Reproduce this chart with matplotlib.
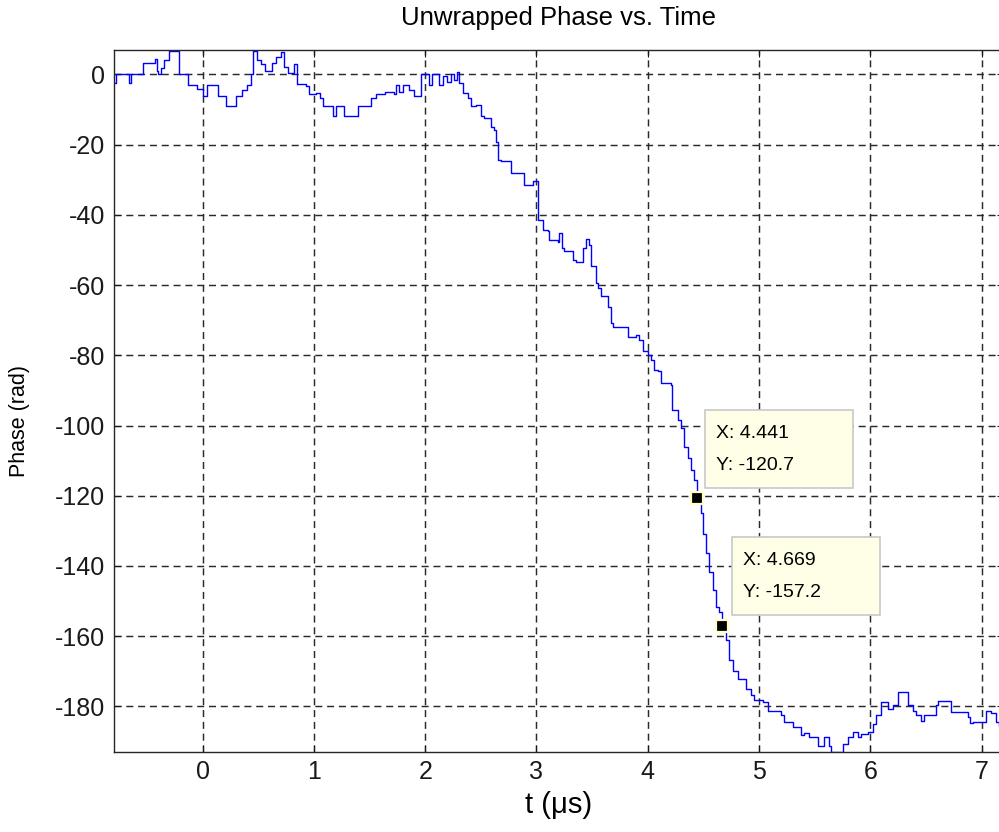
import matplotlib
matplotlib.use("Agg")
import matplotlib.pyplot as plt
import matplotlib.transforms as mtransforms
from matplotlib.patches import Rectangle

plt.rcParams['font.family'] = ['Liberation Sans', 'DejaVu Sans']
plt.rcParams['axes.unicode_minus'] = False

# unwrapped phase samples (step changes), time in microseconds
t_us = [
    -0.797, -0.78, -0.662, -0.64, -0.536, -0.43, -0.415, -0.40, -0.375, -0.35,
    -0.30, -0.213, -0.132, -0.05, 0.00, 0.04, 0.137, 0.21, 0.30, 0.35,
    0.40, 0.43, 0.455, 0.49, 0.52, 0.56, 0.62, 0.66, 0.70, 0.73,
    0.77, 0.82, 0.847, 0.93, 0.955, 1.02, 1.05, 1.08, 1.17, 1.20,
    1.27, 1.40, 1.51, 1.557, 1.64, 1.72, 1.737, 1.764, 1.80, 1.85,
    1.90, 1.962, 2.03, 2.06, 2.12, 2.16, 2.20, 2.23, 2.26, 2.285,
    2.303, 2.34, 2.384, 2.411, 2.456, 2.501, 2.528, 2.591, 2.618, 2.635,
    2.653, 2.68, 2.771, 2.887, 2.968, 3.01, 3.031, 3.058, 3.103, 3.112,
    3.193, 3.201, 3.228, 3.246, 3.327, 3.354, 3.417, 3.444, 3.471, 3.489,
    3.534, 3.552, 3.579, 3.642, 3.668, 3.686, 3.821, 3.893, 3.92, 3.956,
    4.0, 4.028, 4.055, 4.091, 4.118, 4.208, 4.217, 4.271, 4.298, 4.325,
    4.361, 4.389, 4.415, 4.441, 4.480, 4.498, 4.525, 4.549, 4.585, 4.612,
    4.639, 4.669, 4.701, 4.729, 4.765, 4.810, 4.882, 4.927, 4.954, 5.034,
    5.079, 5.196, 5.223, 5.304, 5.376, 5.40, 5.447, 5.528, 5.582, 5.627,
    5.645, 5.753, 5.798, 5.843, 5.888, 5.915, 5.978, 6.023, 6.050, 6.095,
    6.157, 6.202, 6.247, 6.337, 6.382, 6.409, 6.454, 6.481, 6.589, 6.607,
    6.723, 6.876, 6.90, 6.922, 7.038, 7.083, 7.128, 7.154, 7.25,
]
phase_rad = [
    -2.5, 0.0, -2.5, 0.0, 3.3, 4.3, 1.0, 0.0, 1.9, 4.0,
    6.8, 0.0, -3.0, -4.2, -6.2, -3.0, -6.2, -9.0, -6.2, -4.5,
    -3.0, 0.0, 6.8, 4.0, 3.0, 1.0, 3.3, 5.0, 6.5, 2.0,
    0.5, 2.9, -2.7, -3.2, -5.7, -5.4, -6.6, -9.0, -11.9, -9.0,
    -11.9, -9.0, -6.6, -5.7, -5.0, -5.7, -2.9, -5.0, -2.9, -4.5,
    -6.2, 0.0, -2.9, 0.0, -3.1, -0.5, -2.0, 0.0, -1.5, 0.7,
    -2.3, -5.2, -6.6, -9.0, -8.6, -11.9, -12.3, -15.1, -15.7, -19.3,
    -24.3, -24.7, -28.0, -31.4, -30.4, -41.4, -41.4, -44.2, -44.7, -47.1,
    -47.6, -45.2, -49.5, -50.4, -52.8, -53.3, -49.4, -46.9, -48.5, -54.7,
    -59.4, -60.8, -63.2, -66.1, -70.8, -71.8, -74.8, -74.2, -75.5, -78.9,
    -80.0, -81.3, -84.2, -84.6, -87.9, -88.5, -95.6, -98.4, -100.7, -106.0,
    -109.3, -112.7, -115.5, -120.7, -125.0, -131.0, -136.4, -141.7, -147.0, -151.7,
    -153.0, -157.2, -161.2, -166.9, -169.8, -172.1, -175.0, -176.9, -178.3, -178.8,
    -181.2, -182.6, -184.5, -185.9, -188.3, -187.6, -188.8, -191.2, -188.8, -191.2,
    -193.0, -190.6, -188.8, -187.4, -188.8, -187.8, -187.4, -185.0, -182.6, -178.8,
    -180.7, -179.7, -176.0, -179.7, -181.2, -182.6, -184.2, -182.6, -179.7, -178.6,
    -181.6, -183.1, -184.8, -184.5, -181.2, -182.0, -184.5, -185.7, -185.7,
]

# data cursor points
tip_t = [4.441, 4.669]
tip_phase = [-120.7, -157.2]

x_ticks = [0, 1, 2, 3, 4, 5, 6, 7]
y_ticks = [0, -20, -40, -60, -80, -100, -120, -140, -160, -180]

fig = plt.figure(figsize=(9.99, 8.32), dpi=100)
ax = fig.add_axes([0.1138, 0.0962, 0.891, 0.8438])

ax.plot(t_us, phase_rad, color=(0, 0, 1), lw=1.0, drawstyle='steps-post')

ax.set_xlim(-0.8, 7.2)
ax.set_ylim(-193, 7)
ax.set_xticks(x_ticks)
ax.set_yticks(y_ticks)
ax.tick_params(direction='in', length=5, labelsize=18, top=True, right=True,
               colors='#1a1a1a', pad=6)
for s in ax.spines.values():
    s.set_color('#262626')
    s.set_linewidth(1.0)
ax.grid(True, color='#2a2a2a', lw=1.05, linestyle=(0, (4.8, 3.3)))

ax.set_title('Unwrapped Phase vs. Time', fontsize=18.5, pad=18)
ax.set_xlabel('t (μs)', fontsize=21, labelpad=5)
ax.set_ylabel('Phase (rad)', fontsize=15.5)
ax.yaxis.set_label_coords(-0.094, 0.4715)

# data tips: yellow boxes offset from the marker in screen units
offsets = [(8, 10), (10, 11)]
for tx, py, (dx, dy) in zip(tip_t, tip_phase, offsets):
    ax.plot([tx], [py], marker='s', ms=9, mfc='black', mec='#FFFFC8', mew=1.6,
            zorder=5, clip_on=False)
    trans = fig.dpi_scale_trans + mtransforms.ScaledTranslation(tx, py, ax.transData)
    box = Rectangle((dx / 100, dy / 100), 1.48, 0.78, transform=trans,
                    facecolor='#FFFFE8', edgecolor='#C8C8C8', lw=1.2, zorder=6,
                    clip_on=False)
    ax.add_patch(box)
    ax.text((dx + 11) / 100, (dy + 55) / 100, f'X: {tx:.3f}', transform=trans,
            fontsize=14, va='center', ha='left', zorder=7)
    ax.text((dx + 11) / 100, (dy + 23) / 100, f'Y: {py:.1f}', transform=trans,
            fontsize=14, va='center', ha='left', zorder=7)

fig.savefig('out.png', dpi=100)
